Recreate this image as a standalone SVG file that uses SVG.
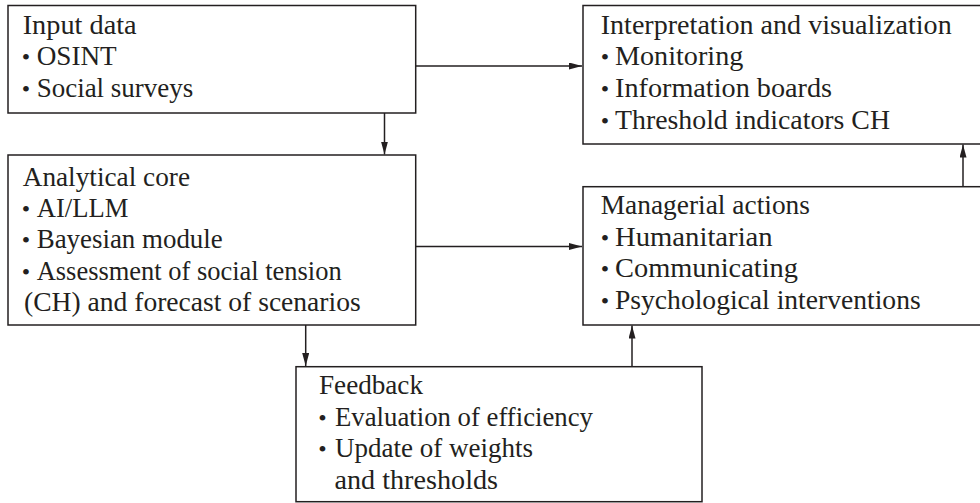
<svg xmlns="http://www.w3.org/2000/svg" width="980" height="503" viewBox="0 0 980 503">
<defs>
<style>
.box{fill:#fff;stroke:#231f20;stroke-width:1.5}
.t{font-size:28px;fill:#231f20}
.b{text-anchor:middle;font-size:24px}
.c{fill:none;stroke:#231f20;stroke-width:1.5}
</style>
<marker id="ah" markerUnits="userSpaceOnUse" markerWidth="14" markerHeight="8" refX="13" refY="3.5" orient="auto">
<path d="M0,0 L13,3.5 L0,7 z" fill="#231f20"/>
</marker>
</defs>
<rect width="980" height="503" fill="#fff"/>
<g id="connectors">
<path class="c" d="M415.7,66 H582" marker-end="url(#ah)"/>
<path class="c" d="M384.5,113 V154.5" marker-end="url(#ah)"/>
<path class="c" d="M415.7,246.5 H582" marker-end="url(#ah)"/>
<path class="c" d="M963,186.7 V144.5" marker-end="url(#ah)"/>
<path class="c" d="M305.7,325 V366" marker-end="url(#ah)"/>
<path class="c" d="M632,366.7 V325.5" marker-end="url(#ah)"/>
</g>
<g font-family="'Liberation Serif', 'Times New Roman', serif" lengthAdjust="spacingAndGlyphs">
<g id="input">
<rect class="box" x="8" y="5.5" width="407.7" height="107.5"/>
<text class="t" x="22.7" y="34.3" textLength="114" lengthAdjust="spacingAndGlyphs">Input data</text>
<text class="t b" x="26" y="65">•</text><text class="t" x="36.7" y="65" textLength="80" lengthAdjust="spacingAndGlyphs">OSINT</text>
<text class="t b" x="26" y="96.7">•</text><text class="t" x="36.7" y="96.7" textLength="156.6" lengthAdjust="spacingAndGlyphs">Social surveys</text>
</g>
<g id="core">
<rect class="box" x="8" y="155" width="407.7" height="170"/>
<text class="t" x="22.7" y="185.7" textLength="167.3" lengthAdjust="spacingAndGlyphs">Analytical core</text>
<text class="t b" x="26" y="216.7">•</text><text class="t" x="36.7" y="216.7" textLength="91.6" lengthAdjust="spacingAndGlyphs">AI/LLM</text>
<text class="t b" x="26" y="248.3">•</text><text class="t" x="36.7" y="248.3" textLength="186" lengthAdjust="spacingAndGlyphs">Bayesian module</text>
<text class="t b" x="26" y="280">•</text><text class="t" x="36.7" y="280" textLength="305" lengthAdjust="spacingAndGlyphs">Assessment of social tension</text>
<text class="t" x="24" y="310.7" textLength="336.7" lengthAdjust="spacingAndGlyphs">(CH) and forecast of scenarios</text>
</g>
<g id="interpretation">
<rect class="box" x="583" y="5.5" width="400" height="138.5"/>
<text class="t" x="600.7" y="33.5" textLength="351" lengthAdjust="spacingAndGlyphs">Interpretation and visualization</text>
<text class="t b" x="605" y="65">•</text><text class="t" x="615" y="65" textLength="128.3" lengthAdjust="spacingAndGlyphs">Monitoring</text>
<text class="t b" x="605" y="96.7">•</text><text class="t" x="615" y="96.7" textLength="217" lengthAdjust="spacingAndGlyphs">Information boards</text>
<text class="t b" x="605" y="129">•</text><text class="t" x="615" y="129" textLength="275" lengthAdjust="spacingAndGlyphs">Threshold indicators CH</text>
</g>
<g id="managerial">
<rect class="box" x="583" y="186.7" width="400" height="138.3"/>
<text class="t" x="600.7" y="214" textLength="209.3" lengthAdjust="spacingAndGlyphs">Managerial actions</text>
<text class="t b" x="605" y="245.5">•</text><text class="t" x="615" y="245.5" textLength="157.7" lengthAdjust="spacingAndGlyphs">Humanitarian</text>
<text class="t b" x="605" y="277">•</text><text class="t" x="615" y="277" textLength="183" lengthAdjust="spacingAndGlyphs">Communicating</text>
<text class="t b" x="605" y="308.5">•</text><text class="t" x="615" y="308.5" textLength="305.7" lengthAdjust="spacingAndGlyphs">Psychological interventions</text>
</g>
<g id="feedback">
<rect class="box" x="296" y="366.7" width="406" height="135"/>
<text class="t" x="319" y="394" textLength="104" lengthAdjust="spacingAndGlyphs">Feedback</text>
<text class="t b" x="322.5" y="425.5">•</text><text class="t" x="335" y="425.5" textLength="258" lengthAdjust="spacingAndGlyphs">Evaluation of efficiency</text>
<text class="t b" x="322.5" y="457">•</text><text class="t" x="335" y="457" textLength="198" lengthAdjust="spacingAndGlyphs">Update of weights</text>
<text class="t" x="334.5" y="488.5" textLength="163.5" lengthAdjust="spacingAndGlyphs">and thresholds</text>
</g>
</g>
</svg>
